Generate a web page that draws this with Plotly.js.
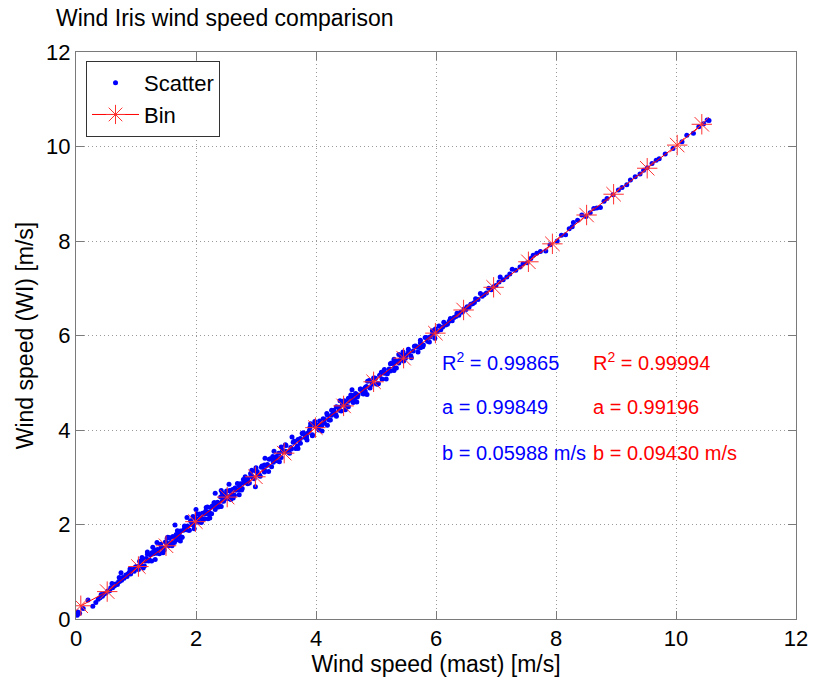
<!DOCTYPE html>
<html>
<head>
<meta charset="utf-8">
<script src="https://cdn.plot.ly/plotly-3.0.1.min.js"></script>
<style>html,body{margin:0;padding:0;background:#fff;}#chart{width:815px;height:682px;}</style>
</head>
<body>
<div id="chart"></div>
<script>
// Scatter: mast wind speed vs Wind Iris wind speed (m/s)
var scatterX = [
  0.02,0.03,0.06,0.12,0.20,0.28,0.33,0.37,0.40,0.44,0.47,0.50,0.53,0.56,0.58,0.61,0.64,0.66,0.69,0.71,
  0.73,0.76,0.78,0.80,0.83,0.85,0.87,0.89,0.91,0.93,0.95,0.97,0.99,0.60,0.72,0.42,0.90,
  1.01,1.04,1.06,1.09,1.11,1.14,1.16,1.19,1.21,1.24,1.26,1.29,1.31,1.34,1.36,1.39,1.41,1.44,1.46,1.49,
  1.51,1.54,1.56,1.59,1.61,1.64,1.66,1.69,1.71,1.74,1.76,1.79,1.81,1.84,1.86,1.89,1.91,1.94,1.96,1.99,
  2.01,2.04,2.06,2.09,2.11,2.14,2.16,2.19,2.21,2.24,2.26,2.29,2.31,2.34,2.36,2.39,2.41,2.44,2.46,2.49,
  2.51,2.54,2.56,2.59,2.61,2.64,2.66,2.69,2.71,2.74,2.76,2.79,2.81,2.84,2.86,2.89,2.91,2.94,2.96,2.99,
  1.02,1.07,1.12,1.17,1.22,1.27,1.32,1.37,1.42,1.47,1.52,1.57,1.62,1.67,1.72,1.77,1.82,1.87,1.92,1.97,
  2.02,2.07,2.12,2.17,2.22,2.27,2.32,2.37,2.42,2.47,2.52,2.57,2.62,2.67,2.72,2.77,2.82,2.87,2.92,2.97,
  1.19,1.65,2.32,1.35,1.85,0.75,2.00,1.10,2.55,1.45,2.20,1.60,1.28,2.42,
  3.02,3.06,3.10,3.14,3.18,3.22,3.26,3.30,3.34,3.38,3.42,3.46,3.50,3.54,3.58,3.62,3.66,3.70,3.74,3.78,
  3.82,3.86,3.90,3.94,3.98,4.02,4.06,4.10,4.14,4.18,4.22,4.26,4.30,4.34,4.38,4.42,4.46,4.50,4.54,4.58,
  4.62,4.66,4.70,4.74,4.78,4.82,4.86,4.90,4.94,4.98,5.02,5.06,5.10,5.14,5.18,5.22,5.26,5.30,5.34,5.38,
  5.42,5.46,5.50,5.54,5.58,5.62,5.66,5.70,5.74,5.78,5.82,5.86,5.90,5.94,5.98,
  3.04,3.09,3.14,3.19,3.24,3.29,3.34,3.39,3.44,3.49,3.54,3.59,3.64,3.69,3.74,3.79,3.84,3.89,3.94,3.99,
  4.04,4.09,4.14,4.19,4.24,4.29,4.34,4.39,4.44,4.49,4.54,4.59,4.64,4.69,4.74,4.79,4.84,4.89,4.94,4.99,
  5.04,5.09,5.14,5.19,5.24,5.29,5.34,5.39,5.44,5.49,5.54,5.59,5.64,5.69,5.74,5.79,5.84,5.89,5.94,5.99,
  2.99,3.85,3.30,4.10,3.60,5.74,4.60,3.15,4.85,5.30,
  1.53,1.60,1.67,1.74,1.81,1.88,1.95,2.02,2.09,2.16,2.23,2.30,2.37,2.44,2.51,2.58,2.65,2.72,2.79,2.86,
  2.93,3.00,3.07,3.14,3.21,3.28,3.35,3.42,3.49,3.56,3.63,3.70,3.77,3.84,3.91,3.98,4.05,4.12,4.19,4.26,
  4.33,4.40,4.47,4.54,4.61,4.68,4.75,4.82,4.89,4.96,5.03,5.10,5.17,5.24,5.31,5.38,5.45,
  6.02,6.05,6.08,6.11,6.13,6.16,6.19,6.22,6.24,6.27,6.30,6.33,6.35,6.38,6.41,6.44,6.47,6.50,6.52,6.55,
  6.58,6.61,6.64,6.66,6.70,6.74,6.77,6.80,6.84,6.88,6.92,6.96,7.00,7.05,7.07,7.12,7.18,7.23,7.27,7.33,
  7.40,7.45,7.52,7.58,7.62,7.68,7.74,7.83,7.90,8.02,8.09,8.16,8.22,8.27,8.29,8.36,8.43,8.50,8.57,8.63,
  8.68,8.74,8.80,8.85,8.95,9.04,9.10,9.18,9.24,9.32,9.40,9.46,9.52,9.60,9.67,9.72,9.82,9.95,10.10,10.18,
  10.29,10.38,10.46,10.52,10.55
];
var scatterY = [
  0.08,0.15,0.12,0.22,0.40,0.27,0.35,0.42,0.45,0.48,0.53,0.55,0.59,0.60,0.66,0.66,0.70,0.74,0.73,0.79,
  0.80,0.82,0.88,0.86,0.93,0.90,0.96,0.99,0.95,1.02,1.05,1.01,1.10,0.75,0.88,0.52,1.06,
  1.11,1.05,1.22,1.13,1.24,1.12,1.23,1.37,1.23,1.36,1.23,1.38,1.46,1.39,1.47,1.38,1.58,1.50,1.49,1.63,
  1.61,1.55,1.72,1.63,1.74,1.62,1.73,1.87,1.73,1.86,1.73,1.88,1.96,1.89,1.97,1.88,2.08,2.00,1.99,2.13,
  2.11,2.05,2.22,2.13,2.24,2.12,2.23,2.37,2.23,2.36,2.23,2.38,2.46,2.39,2.47,2.38,2.58,2.50,2.49,2.63,
  2.61,2.55,2.72,2.63,2.74,2.62,2.73,2.87,2.73,2.86,2.73,2.88,2.96,2.89,2.97,2.88,3.08,3.00,2.99,3.13,
  1.08,1.15,1.08,1.28,1.25,1.41,1.26,1.43,1.52,1.46,1.71,1.61,1.74,1.67,1.80,1.73,1.93,1.90,2.06,1.91,
  2.08,2.17,2.11,2.36,2.26,2.39,2.32,2.45,2.38,2.58,2.55,2.71,2.56,2.73,2.82,2.76,3.01,2.91,3.04,2.97,
  1.42,1.99,2.66,1.62,2.15,0.98,2.32,1.30,2.85,1.40,2.12,1.57,1.52,2.72,
  3.12,3.04,3.24,3.16,3.25,3.38,3.22,3.41,3.38,3.51,3.42,3.54,3.67,3.53,3.63,3.74,3.61,3.80,3.72,3.92,
  3.84,3.93,4.06,3.90,4.09,4.06,4.19,4.10,4.22,4.35,4.21,4.31,4.42,4.29,4.48,4.40,4.60,4.52,4.61,4.74,
  4.58,4.77,4.74,4.87,4.78,4.90,5.03,4.89,4.99,5.10,4.97,5.16,5.08,5.28,5.20,5.29,5.42,5.26,5.45,5.42,
  5.55,5.46,5.58,5.71,5.57,5.67,5.78,5.65,5.84,5.76,5.96,5.88,5.97,6.10,5.94,
  3.05,3.21,3.11,3.27,3.39,3.32,3.44,3.33,3.57,3.55,3.54,3.60,3.76,3.66,3.82,3.94,3.87,3.99,3.88,4.12,
  4.10,4.09,4.15,4.31,4.21,4.37,4.49,4.42,4.54,4.43,4.67,4.65,4.64,4.70,4.86,4.76,4.92,5.04,4.97,5.09,
  4.98,5.22,5.20,5.19,5.25,5.41,5.31,5.47,5.59,5.52,5.64,5.53,5.77,5.75,5.74,5.80,5.96,5.86,6.02,6.14,
  2.80,3.79,3.55,3.98,3.85,5.90,4.85,3.40,4.75,5.50,
  1.73,1.55,1.79,1.65,1.97,1.88,2.17,2.22,2.04,2.28,2.14,2.46,2.37,2.66,2.71,2.53,2.77,2.63,2.95,2.86,
  3.15,3.20,3.02,3.26,3.12,3.44,3.35,3.64,3.69,3.51,3.75,3.61,3.93,3.84,4.13,4.18,4.00,4.24,4.10,4.42,
  4.33,4.62,4.62,4.49,4.73,4.59,4.86,4.82,5.05,5.10,4.98,5.22,5.08,5.40,5.31,5.60,5.65,
  6.08,6.20,6.12,6.18,6.28,6.22,6.24,6.30,6.36,6.31,6.38,6.40,6.47,6.43,6.49,6.50,6.56,6.55,6.61,6.60,
  6.66,6.67,6.70,6.78,6.76,6.89,6.83,6.86,6.90,7.00,6.97,7.03,7.06,7.13,7.24,7.18,7.24,7.30,7.40,7.38,
  7.45,7.52,7.54,7.63,7.70,7.74,7.78,7.79,7.92,8.00,8.12,8.13,8.26,8.30,8.39,8.44,8.55,8.52,8.60,8.69,
  8.70,8.71,8.84,8.90,8.98,9.08,9.13,9.19,9.29,9.36,9.42,9.50,9.55,9.64,9.71,9.74,9.84,9.96,10.10,10.24,
  10.28,10.42,10.48,10.56,10.55
];
// Bin averages
var binX = [0.08,0.52,1.04,1.50,1.99,2.52,2.99,3.47,3.99,4.46,4.96,5.46,5.99,6.46,6.96,7.54,7.94,8.51,8.96,9.52,10.02,10.43];
var binY = [0.28,0.58,1.11,1.55,2.06,2.58,3.01,3.51,4.05,4.51,5.02,5.52,6.05,6.54,7.02,7.56,7.94,8.55,8.99,9.54,10.03,10.47];
// Fit statistics
var scatterStats = ['R<sup>2</sup> = 0.99865', 'a = 0.99849', 'b = 0.05988 m/s'];
var binStats = ['R<sup>2</sup> = 0.99994', 'a = 0.99196', 'b = 0.09430 m/s'];
var tickVals = [0, 2, 4, 6, 8, 10, 12];
var tickText = ['0', '2', '4', '6', '8', '10', '12'];

var FONT = 'Liberation Sans, Arial, sans-serif';
var statRows = [5.44, 4.49, 3.51];
var annotations = [];
scatterStats.forEach(function (t, i) {
  annotations.push({x: 6.07, y: statRows[i], xref: 'x', yref: 'y', text: t, showarrow: false,
    xanchor: 'left', yanchor: 'middle', font: {family: FONT, size: 20, color: '#0000ff'}});
});
binStats.forEach(function (t, i) {
  annotations.push({x: 8.58, y: statRows[i], xref: 'x', yref: 'y', text: t, showarrow: false,
    xanchor: 'left', yanchor: 'middle', font: {family: FONT, size: 20, color: '#ff0000'}});
});

var axisCommon = {
  range: [0, 12], tickmode: 'array', tickvals: tickVals, ticktext: tickText,
  showline: true, linecolor: '#7a7a7a', linewidth: 1, mirror: 'ticks',
  ticks: 'inside', ticklen: 8, tickcolor: '#7a7a7a', tickwidth: 1,
  showgrid: true, gridcolor: '#9a9a9a', griddash: '1px,3px', gridwidth: 1,
  zeroline: false, tickfont: {family: FONT, size: 22, color: '#000'}
};

var traces = [
  {x: scatterX, y: scatterY, type: 'scatter', mode: 'markers', name: 'Scatter',
   marker: {color: '#0000ff', size: 5, line: {width: 0}}},
  {x: binX, y: binY, type: 'scatter', mode: 'lines+markers', name: 'Bin',
   line: {color: '#ff0000', width: 1},
   marker: {symbol: 'asterisk-open', size: 17, color: '#ff3030', line: {color: '#ff3030', width: 1}}}
];

var layout = {
  width: 815, height: 682,
  margin: {l: 76, r: 19, t: 52, b: 63},
  paper_bgcolor: '#fff', plot_bgcolor: '#fff',
  font: {family: FONT, color: '#000'},
  title: {text: 'Wind Iris wind speed comparison', xref: 'container', x: 56/815, xanchor: 'left',
          yref: 'container', y: 1 - 18/682, yanchor: 'middle', font: {family: FONT, size: 23, color: '#000'}},
  xaxis: Object.assign({}, axisCommon, {title: {text: 'Wind speed (mast) [m/s]', font: {family: FONT, size: 23}, standoff: 5}}),
  yaxis: Object.assign({}, axisCommon, {title: {text: 'Wind speed (WI) [m/s]', font: {family: FONT, size: 23}, standoff: 6}}),
  showlegend: true,
  legend: {x: 0.0139, y: 0.984, xanchor: 'left', yanchor: 'top', bgcolor: '#fff', itemwidth: 47,
           bordercolor: '#333', borderwidth: 1, font: {family: FONT, size: 22, color: '#000'}},
  annotations: annotations
};

Plotly.newPlot('chart', traces, layout, {displayModeBar: false, staticPlot: true});
</script>
</body>
</html>
